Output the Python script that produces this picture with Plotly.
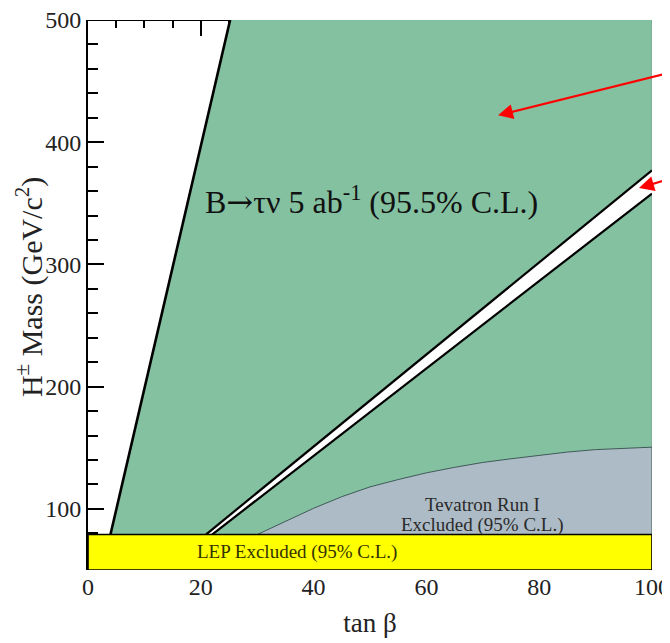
import plotly.graph_objects as go

# ---- data ----
# left boundary of the B->tau nu allowed region (line through origin)
left_tanb = [3.98, 25.2]
left_mass = [79, 500]
# narrow allowed band (upper / lower edges)
band_up_tanb = [20.9, 100]
band_up_mass = [79, 377]
band_lo_tanb = [22.0, 100]
band_lo_mass = [79, 358]
# Tevatron Run I excluded boundary
tev_tanb = [30, 35, 40, 45, 50, 55, 60, 65, 70, 75, 80, 85, 90, 95, 100]
tev_mass = [79, 90, 100.5, 110, 118, 124, 129.5, 134, 138, 141, 144, 146.5, 148.5, 149.8, 150.5]
# LEP excluded
lep_low, lep_high = 50, 79
x_min, x_max = 0, 100
y_min, y_max = 50, 500
x_ticks = [0, 20, 40, 60, 80, 100]
y_ticks = [100, 200, 300, 400, 500]

GREEN = "#84c1a1"
GRAY = "#adbbc6"
YELLOW = "#ffff00"
FONT = "Liberation Serif"

fig = go.Figure()

# green allowed region
fig.add_trace(go.Scatter(
    x=[left_tanb[0], left_tanb[1], x_max, x_max, left_tanb[0]],
    y=[left_mass[0], left_mass[1], y_max, lep_high, left_mass[0]],
    fill="toself", fillcolor=GREEN, mode="lines",
    line=dict(width=0, color=GREEN), hoverinfo="skip", showlegend=False))

# thin edge on the right side of the green region
fig.add_trace(go.Scatter(x=[x_max, x_max], y=[lep_high, y_max], mode="lines",
                         line=dict(color="#7f9a90", width=1), hoverinfo="skip",
                         showlegend=False))

# white narrow band
fig.add_trace(go.Scatter(
    x=band_up_tanb + band_lo_tanb[::-1] + [band_up_tanb[0]],
    y=band_up_mass + band_lo_mass[::-1] + [band_up_mass[0]],
    fill="toself", fillcolor="white", mode="lines",
    line=dict(width=0, color="white"), hoverinfo="skip", showlegend=False))

# band edges and left boundary
for xs, ys, w in [(band_up_tanb, band_up_mass, 2.2), (band_lo_tanb, band_lo_mass, 2.2),
                  (left_tanb, left_mass, 2.6)]:
    fig.add_trace(go.Scatter(x=xs, y=ys, mode="lines",
                             line=dict(color="black", width=w),
                             hoverinfo="skip", showlegend=False))

# top frame only over the white (excluded) part
fig.add_trace(go.Scatter(x=[x_min, left_tanb[1]], y=[y_max, y_max], mode="lines",
                         line=dict(color="black", width=2), cliponaxis=False,
                         hoverinfo="skip", showlegend=False))

# Tevatron region
fig.add_trace(go.Scatter(
    x=tev_tanb + [x_max, tev_tanb[0]],
    y=tev_mass + [lep_high, tev_mass[0]],
    fill="toself", fillcolor=GRAY, mode="lines",
    line=dict(width=1, color="#3f5a58"), hoverinfo="skip", showlegend=False))

# LEP band
fig.add_trace(go.Scatter(
    x=[x_min, x_max, x_max, x_min, x_min],
    y=[lep_low, lep_low, lep_high, lep_high, lep_low],
    fill="toself", fillcolor=YELLOW, mode="lines",
    line=dict(width=1.6, color="black"), hoverinfo="skip", showlegend=False))

# invisible trace for top axis
fig.add_trace(go.Scatter(x=[x_min], y=[y_max], xaxis="x2", mode="markers",
                         marker=dict(opacity=0), hoverinfo="skip", showlegend=False))

# text labels
fig.add_annotation(x=50.2, y=352.7,
                   text="B<span style=\"font-family:'DejaVu Serif'\">→</span>τν 5 ab<sup>-1</sup> (95.5% C.L.)",
                   showarrow=False, font=dict(family=FONT, size=32, color="#111"))
fig.add_annotation(x=70.0, y=104, text="Tevatron Run I", showarrow=False,
                   font=dict(family=FONT, size=19, color="#2a2a2a"))
fig.add_annotation(x=70.0, y=86.7, text="Excluded (95% C.L.)", showarrow=False,
                   font=dict(family=FONT, size=19, color="#2a2a2a"))
fig.add_annotation(x=37.1, y=64.6, text="LEP Excluded (95% C.L.)", showarrow=False,
                   font=dict(family=FONT, size=19, color="#333300"))

# y-axis title placed as rotated text
fig.add_annotation(x=0, xref="paper", xshift=-59, y=281.5, yref="y",
                   text="H<sup>±</sup> Mass (GeV/c<sup>2</sup>)", textangle=-90,
                   showarrow=False, xanchor="center", yanchor="middle",
                   font=dict(family=FONT, size=30, color="#222"))

# red arrows
for tip_x, tip_y, tail_x, tail_y in [(72.7, 422, 103.6, 457.4), (97.7, 362.5, 103.6, 370.7)]:
    fig.add_annotation(x=tip_x, y=tip_y, ax=tail_x, ay=tail_y, axref="x", ayref="y",
                       xref="x", yref="y", text="", showarrow=True,
                       arrowhead=2, arrowsize=1.5, arrowwidth=2, arrowcolor="red")

fig.update_layout(
    width=662, height=635,
    margin=dict(l=80, r=18, t=12, b=73, autoexpand=False),
    paper_bgcolor="white", plot_bgcolor="white",
    font=dict(family=FONT, color="#222"),
    xaxis=dict(range=[x_min, x_max], tickvals=x_ticks, ticks="", showline=False,
               showgrid=False, zeroline=False, tickfont=dict(size=24, color="#222"),
               ticklabeloverflow="allow",
               title=dict(text="tan β", font=dict(size=27, color="#222"), standoff=14),
               layer="below traces", automargin=False),
    xaxis2=dict(range=[x_min, x_max], overlaying="x", side="top", showticklabels=False,
                ticks="inside", dtick=20, tick0=0, ticklen=16, tickwidth=1.5, tickcolor="black",
                minor=dict(dtick=5, ticklen=8, ticks="inside", tickcolor="black", tickwidth=1.5),
                showline=False, showgrid=False,
                zeroline=False, layer="below traces", automargin=False),
    yaxis=dict(range=[y_min, y_max], tickvals=y_ticks, ticks="inside", ticklen=16,
               tickwidth=1.5, tickcolor="black",
               minor=dict(dtick=20, tick0=0, ticklen=10, ticks="inside", tickcolor="black", tickwidth=1.5),
               showline=True, linecolor="black", linewidth=2, showgrid=False, zeroline=False,
               tickfont=dict(size=24, color="#222"), ticklabeloverflow="allow",
               layer="below traces", automargin=False),
)

fig.write_html("out.html")
